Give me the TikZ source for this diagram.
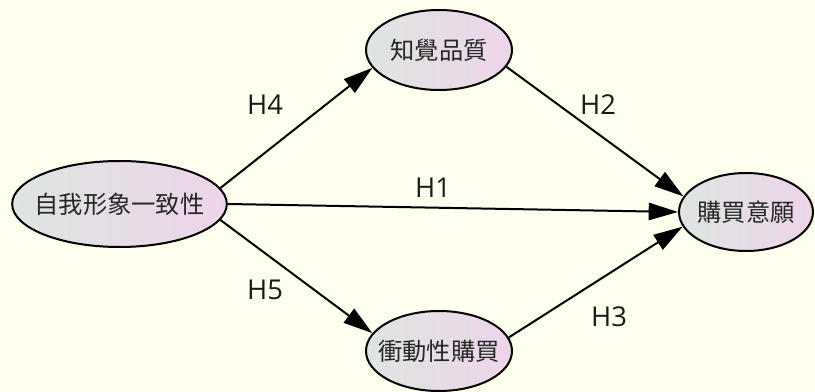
\documentclass[tikz,border=0pt]{standalone}
\usepackage{fontspec}
\setmainfont{Open Sans}
\newfontfamily\cjk{Noto Sans CJK TC}
\usetikzlibrary{shapes.geometric,arrows.meta}
\definecolor{bgcol}{RGB}{255,255,240}
\definecolor{lcol}{RGB}{222,229,226}
\definecolor{rcol}{RGB}{238,212,234}
\newcommand{\ztext}[1]{\makebox[0pt]{#1}}
\tikzset{
  construct/.style={ellipse,draw=black,line width=1.5pt,left color=lcol,right color=rcol,inner sep=0pt,font=\cjk\fontsize{18.2pt}{20pt}\selectfont,text=black!85},
  path/.style={line width=1.5pt,-{Triangle[length=22pt,width=13pt]}},
  hyp/.style={font=\fontsize{20.5pt}{22pt}\selectfont,text=black!90}
}
\begin{document}
\begin{tikzpicture}[x=0.75pt,y=-0.75pt]
\fill[bgcol] (0,0) rectangle (815,392);
\useasboundingbox (0,0) rectangle (815,392);
\node[construct,minimum width=161pt,minimum height=64.5pt] (self) at (119.5,204) {\ztext{自我形象一致性}};
\node[construct,minimum width=109.5pt,minimum height=60pt] (qual) at (439,50) {\ztext{知覺品質}};
\node[construct,minimum width=109.5pt,minimum height=60pt] (imp) at (439,351) {\ztext{衝動性購買}};
\node[construct,minimum width=100.5pt,minimum height=58.5pt] (buy) at (746,212) {\ztext{購買意願}};
\draw[path] (self.9) -- (qual.195);
\draw[path] (self.0) -- (buy.180);
\draw[path] (self.-9) -- (imp.165);
\draw[path] (qual.-14.4) -- (buy.166.6);
\draw[path] (imp.11.5) -- (buy.193.2);
\node[hyp] (h4) at (265,105) {H4};
\node[hyp] (h1) at (433,188) {H1};
\node[hyp] (h5) at (265,290) {H5};
\node[hyp] (h2) at (598,105) {H2};
\node[hyp] (h3) at (609,317) {H3};
\end{tikzpicture}
\end{document}
